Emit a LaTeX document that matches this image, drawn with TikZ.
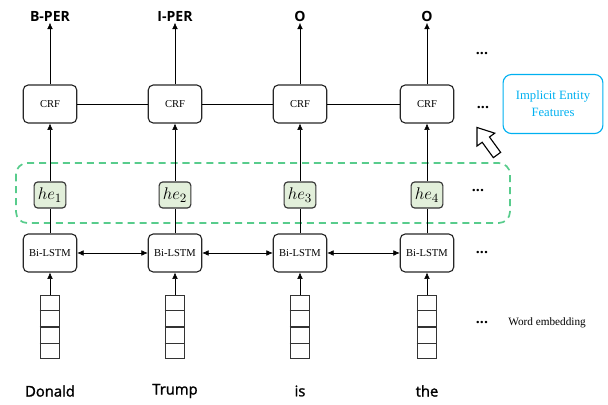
\documentclass[tikz,border=0pt]{standalone}
\usepackage{fontspec}
\setmainfont{Liberation Serif}
\newfontfamily\labelfont{Open Sans}
\newfontfamily\wordfont[FakeBold=1.5]{Open Sans}
\usetikzlibrary{arrows.meta,calc}
\definecolor{hegreen}{RGB}{226,239,218}
\definecolor{dashgreen}{RGB}{88,204,140}
\definecolor{featblue}{RGB}{0,176,240}
\tikzset{%
        x = 0.025cm,
        y = -0.025cm,
        line width = 0.7pt,
        >={Latex[length=4.5pt,width=4pt]}
}
\tikzset{
    unit/.style = {draw = black!85, rounded corners = 3.5pt, line width = 0.8pt,
        minimum width = 38pt, minimum height = 27pt, inner sep = 0pt,
        font = \fontsize{7.5}{9}\selectfont},
    hidden/.style = {draw = black!80, fill = hegreen, rounded corners = 2.5pt,
        line width = 0.8pt, minimum width = 22.5pt, minimum height = 18.5pt, inner sep = 0pt,
        font = \fontsize{12.5}{14}\selectfont},
    embed/.style = {draw = black!80, line width = 0.8pt,
        minimum width = 14pt, minimum height = 45pt, inner sep = 0pt},
    tag/.style = {font = \labelfont\bfseries\fontsize{10}{12}\selectfont, inner sep = 1pt},
    word/.style = {font = \wordfont\fontsize{10.5}{12}\selectfont, inner sep = 1pt},
    more/.style = {font = \labelfont\bfseries\fontsize{10}{12}\selectfont, inner sep = 0pt}
}

\begin{document}
\begin{tikzpicture}
        \useasboundingbox (0,0) rectangle (608,404);
        \draw[dashgreen, line width = 1.2pt, dash pattern = on 5pt off 3.5pt,
            rounded corners = 8pt] (16,163) rectangle (510,223);
        \foreach \i/\x/\lab/\w in {1/50/B-PER/Donald, 2/175/I-PER/Trump, 3/300/O/is, 4/427/O/the} {
            \node[tag] (tag\i) at (\x,16) {\lab};
            \node[unit] (crf\i) at (\x,104) {CRF};
            \node[hidden] (he\i) at (\x,195) {$he_{\i}$};
            \node[unit] (lstm\i) at (\x,253) {Bi-LSTM};
            \node[embed] (emb\i) at (\x,327) {};
            \node[word] (word\i) at (\x,391) {\w};
            \foreach \k in {1,2,3}
                \draw[line width = 0.8pt, black!80] ($(emb\i.north west)!\k/4!(emb\i.south west)$)
                    -- ($(emb\i.north east)!\k/4!(emb\i.south east)$);
            \path
            (crf\i) edge[->] (tag\i)
            (he\i) edge[->] (crf\i)
            (lstm\i) edge (he\i)
            (emb\i) edge[->] (lstm\i)
            ;
        }
        \path
        (crf1) edge (crf2)
        (crf2) edge (crf3)
        (crf3) edge (crf4)
        (lstm1) edge[<->] (lstm2)
        (lstm2) edge[<->] (lstm3)
        (lstm3) edge[<->] (lstm4)
        ;
        \node[more] (m1) at (482,54) {...};
        \node[more] (m2) at (483,108) {...};
        \node[more] (m3) at (478,191) {...};
        \node[more] (m4) at (482,253) {...};
        \node[more] (m5) at (482,323) {...};
        \node[anchor = west, inner sep = 0pt, font = \fontsize{8}{10}\selectfont]
            (embtext) at (508,323) {Word embedding};
        \node[draw = featblue, text = featblue, rounded corners = 6pt, line width = 0.8pt,
            minimum width = 71pt, minimum height = 42pt, align = center,
            font = \fontsize{9}{12}\selectfont] (feat) at (553,104) {Implicit Entity\\Features};
        % hollow pointer to the features box
        \draw[line width = 0.8pt, fill = white, shift = {(497,155)}, rotate = 126]
            (0,-4.5) -- (19,-4.5) -- (19,-11) -- (34,0) -- (19,11) -- (19,4.5) -- (0,4.5) -- cycle;
\end{tikzpicture}
\end{document}
